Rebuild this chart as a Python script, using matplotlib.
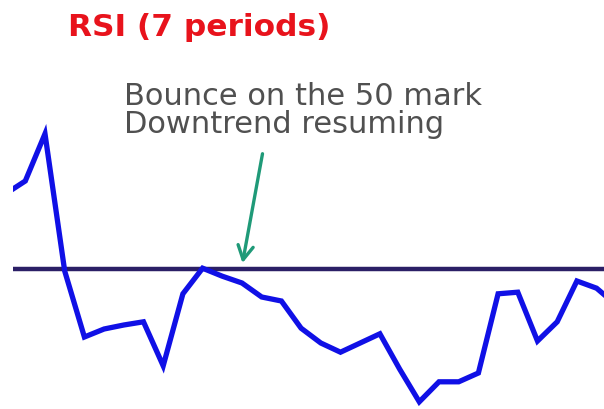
import matplotlib.pyplot as plt
import numpy as np

# RSI readings, one per period
periods = np.arange(32)
rsi = [68.8, 72.0, 83.8, 49.5, 33.0, 35.0, 36.0, 36.8, 25.8, 43.8,
       50.2, 48.2, 46.5, 43.0, 42.0, 35.2, 31.5, 29.2, 31.5, 33.8,
       25.0, 16.8, 21.8, 21.8, 24.0, 43.8, 44.2, 32.0, 36.8, 47.0,
       45.2, 41.0]
midline = 50
title = 'RSI (7 periods)'
note = 'Bounce on the 50 mark\nDowntrend resuming'
note_target = (12.0, 50.8)


def draw_rsi():
    fig = plt.figure(figsize=(6.04, 4.10), dpi=100)
    ax = fig.add_axes([13 / 604, 0, 1 - 13 / 604, 1])
    ax.axhline(midline, color='#2b1f66', lw=3.2, zorder=2)
    ax.plot(periods, rsi, color='#1010e6', lw=3.8, solid_joinstyle='miter', zorder=3)
    ax.set_xlim(0.376, 30.376)
    ax.set_ylim(15, 117.5)
    ax.axis('off')

    fig.text(68 / 604, 1 - 28 / 410, title, color='#e8131c', fontsize=22.5,
             fontweight='bold', va='center', ha='left')
    ax.annotate(note, xy=note_target, xycoords='data',
                xytext=(124 / 604, 1 - 82 / 410), textcoords='figure fraction',
                fontsize=22, color='#505050', va='top', ha='left', linespacing=0.95)
    ax.annotate('', xy=note_target, xycoords='data',
                xytext=(263 / 604, 1 - 152 / 410), textcoords='figure fraction',
                arrowprops=dict(arrowstyle='->,head_length=1.0,head_width=0.55',
                                color='#1f9a78', lw=2.4))
    fig.savefig('out.png', dpi=100)


if __name__ == '__main__':
    draw_rsi()
